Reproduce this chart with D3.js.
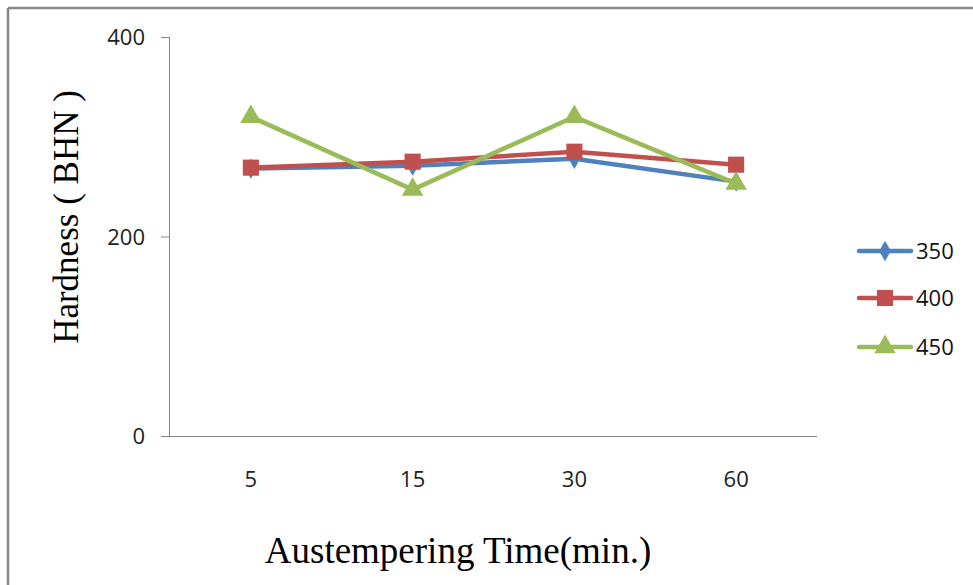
<!DOCTYPE html>
<html><head><meta charset="utf-8">
<script src="https://cdn.jsdelivr.net/npm/d3@7"></script>
<style>body{margin:0;background:#fff}svg{display:block}</style>
</head><body><svg id="c" width="973" height="585"></svg>
<script>
const categories = ["5","15","30","60"];
const seriesNames = ["350","400","450"];
const s350 = [268, 271, 278, 255];
const s400 = [269, 275, 285, 272];
const s450 = [320, 247, 320, 253];
const yTicks = [0, 200, 400];
const colors = ["#4F81BD","#C0504D","#9BBB59"];
const shapes = [d3.symbolDiamond, d3.symbolSquare, d3.symbolTriangle];
const seriesValues = [s350, s400, s450];

const svg = d3.select("#c");
// outer frame (top and left edges visible)
svg.append("line").attr("x1",8).attr("x2",973).attr("y1",8).attr("y2",8).attr("stroke","#868686").attr("stroke-width",2.5);
svg.append("line").attr("x1",8).attr("x2",8).attr("y1",8).attr("y2",585).attr("stroke","#868686").attr("stroke-width",2.5);

const x = d3.scaleBand().domain(categories).range([170, 817]);
const y = d3.scaleLinear().domain([0, 400]).range([436, 37]);

const tickFont = "'Open Sans', sans-serif";
// y axis
const ya = svg.append("g").attr("transform","translate(170,0)")
  .call(d3.axisLeft(y).tickValues(yTicks).tickSize(9).tickPadding(16));
ya.select(".domain").attr("stroke","#868686").attr("d","M-0.5,37V436");
ya.selectAll(".tick line").attr("stroke","#868686");
ya.selectAll(".tick text").attr("font-family",tickFont).attr("font-size",22).attr("fill","#222").attr("dy","0.36em");

// x axis
const xa = svg.append("g").attr("transform","translate(0,436)")
  .call(d3.axisBottom(x).tickSize(0).tickPadding(35));
xa.select(".domain").attr("stroke","#868686").attr("d","M170,0.5H817");
xa.selectAll(".tick text").attr("font-family",tickFont).attr("font-size",22).attr("fill","#222");

// titles
svg.append("text").attr("transform","translate(78,217) rotate(-90)").attr("text-anchor","middle")
  .attr("font-family","'Liberation Serif', 'Times New Roman', serif").attr("font-size",35).attr("fill","#000")
  .text("Hardness ( BHN )");
svg.append("text").attr("x",458).attr("y",563).attr("text-anchor","middle")
  .attr("font-family","'Liberation Serif', 'Times New Roman', serif").attr("font-size",37).attr("fill","#000")
  .text("Austempering Time(min.)");

const line = d3.line().x((d,i)=>x(categories[i])+x.bandwidth()/2).y(d=>y(d));
const symSizes = [120, 260, 200];

seriesValues.forEach((vals, si) => {
  svg.append("path").datum(vals).attr("d", line).attr("fill","none")
    .attr("stroke", colors[si]).attr("stroke-width",4.5).attr("stroke-linejoin","round");
  svg.selectAll(null).data(vals).enter().append("path")
    .attr("d", d3.symbol().type(shapes[si]).size(symSizes[si]))
    .attr("transform",(d,i)=>`translate(${x(categories[i])+x.bandwidth()/2},${y(d)})`)
    .attr("fill", colors[si]);
});

// legend
const legY = [251, 298, 347];
seriesNames.forEach((n, si) => {
  const g = svg.append("g").attr("transform",`translate(0,${legY[si]})`);
  g.append("line").attr("x1",859).attr("x2",911).attr("y1",0).attr("y2",0)
    .attr("stroke",colors[si]).attr("stroke-width",4.5).attr("stroke-linecap","round");
  g.append("path").attr("d", d3.symbol().type(shapes[si]).size(symSizes[si]))
    .attr("transform","translate(885,0)").attr("fill",colors[si]);
  g.append("text").attr("x",916).attr("y",0).attr("dy","0.36em")
    .attr("font-family",tickFont).attr("font-size",22).attr("fill","#111").text(n);
});
</script></body></html>
